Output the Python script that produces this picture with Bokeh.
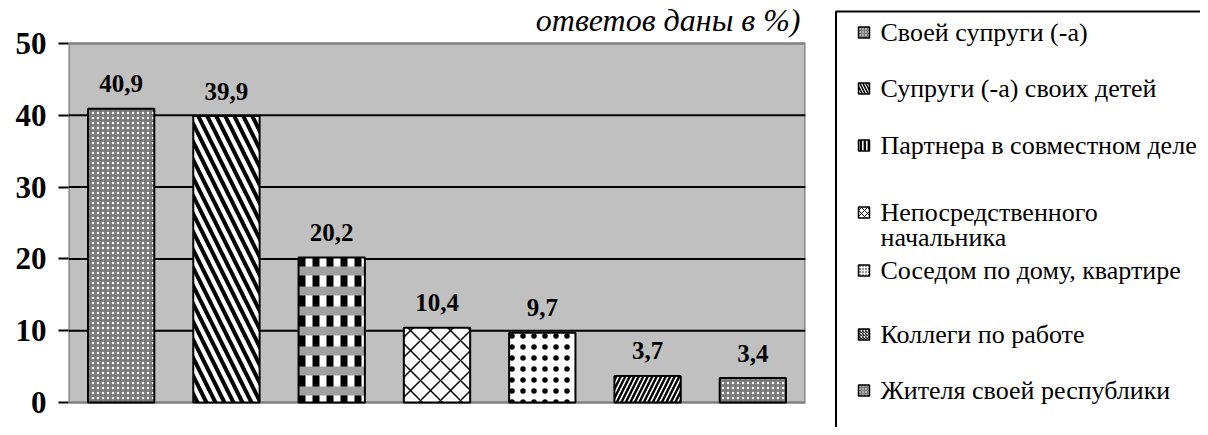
from bokeh.plotting import figure
from bokeh.models import ColumnDataSource, Range1d, FixedTicker
from bokeh.layouts import row
from bokeh.embed import file_html
from bokeh.resources import INLINE
from bokeh.core.properties import value

# ---- data ----
categories = [
    "Своей супруги (-а)",
    "Супруги (-а) своих детей",
    "Партнера в совместном деле",
    "Непосредственного\nначальника",
    "Соседом по дому, квартире",
    "Коллеги по работе",
    "Жителя своей республики",
]
values = [40.9, 39.9, 20.2, 10.4, 9.7, 3.7, 3.4]
y_ticks = [0, 10, 20, 30, 40, 50]
title_text = "ответов даны в %)"

# ---- styles ----
fill_colors = ["#7a7a7a", "white", "white", "white", "white", "white", "#7a7a7a"]
hatch_patterns = ["dot", "left_diagonal_line", "vertical_line", "diagonal_cross", "dot", "right_diagonal_line", "dot"]
hatch_colors = ["white", "black", "black", "black", "black", "black", "white"]
hatch_scales = [5, 18, 14, 20, 11, 9, 5]
hatch_weights = [1, 4, 7, 1.5, 7, 2.5, 1]
over_patterns = [" ", " ", "horizontal_line", " ", " ", " ", " "]
over_colors = ["#a0a0a0"] * 7
SERIF = "Liberation Serif"

# ---- layout (pixels) ----
W1, W2, H = 834, 366, 427
F_LEFT, F_RIGHT, F_TOP, F_BOTTOM = 68, 805, 43, 402

ymax = y_ticks[-1]
per_px = ymax / (F_BOTTOM - F_TOP)
y_start = -(H - F_BOTTOM) * per_px
y_end = ymax + F_TOP * per_px

x = list(range(1, len(values) + 1))
labels = [f"{v:.1f}".replace(".", ",") for v in values]
src = ColumnDataSource(dict(
    x=x, top=values, lab=labels, fill=fill_colors, hp=hatch_patterns, hc=hatch_colors,
    hs=hatch_scales, hw=hatch_weights, op=over_patterns, oc=over_colors,
))

xr = Range1d(0.5, len(values) + 0.5)
p = figure(width=W1, height=H, output_backend="svg", toolbar_location=None,
           x_range=xr, y_range=Range1d(y_start, y_end),
           min_border_left=F_LEFT, min_border_right=W1 - F_RIGHT,
           min_border_top=0, min_border_bottom=0)
p.background_fill_color = "white"
p.border_fill_color = "white"
p.outline_line_color = None

p.xaxis.visible = False
p.xgrid.visible = False
p.ygrid.visible = False

# plot area background and border
p.quad(left=[xr.start], right=[xr.end], bottom=[y_ticks[0]], top=[ymax],
       fill_color="#c0c0c0", line_color="#808080", line_width=2.5)

p.yaxis.ticker = FixedTicker(ticks=y_ticks)
p.yaxis.major_label_text_font = SERIF
p.yaxis.major_label_text_font_style = "bold"
p.yaxis.major_label_text_font_size = "31px"
p.yaxis.major_label_text_color = "black"
p.yaxis.major_label_standoff = 12
p.yaxis.major_tick_out = 10
p.yaxis.major_tick_in = 0
p.yaxis.major_tick_line_width = 2
p.yaxis.major_tick_line_color = "black"
p.yaxis.minor_tick_line_color = None
p.yaxis.axis_line_color = None

# gridlines drawn over the background quad
inner = y_ticks[1:-1]
p.segment(x0=[xr.start] * len(inner), x1=[xr.end] * len(inner), y0=inner, y1=inner,
          line_color="black", line_width=2)

p.vbar(x="x", top="top", bottom=0, width=0.63, source=src, fill_color="fill",
       hatch_pattern="hp", hatch_color="hc", hatch_scale="hs", hatch_weight="hw",
       line_color=None)
p.vbar(x="x", top="top", bottom=0, width=0.63, source=src, fill_alpha=0,
       hatch_pattern="op", hatch_color="oc", hatch_scale=20, hatch_weight=9,
       line_color="black", line_width=2)

p.text(x="x", y="top", text="lab", source=src, text_align="center", text_baseline="middle",
       y_offset=-25, text_font=value(SERIF), text_font_style="bold", text_font_size="25px",
       text_color="black")

# title fragment, anchored to the top-right corner of the plot area
p.text(x=[xr.end], y=[ymax], text=[title_text], x_offset=-5, y_offset=-24,
       text_align="right", text_baseline="alphabetic", text_font=value(SERIF),
       text_font_style="italic", text_font_size="32px", text_color="black")

# ---- legend panel ----
lg = figure(width=W2, height=H, output_backend="svg", toolbar_location=None,
            x_range=Range1d(0, W2), y_range=Range1d(H, 0),
            min_border=0, min_border_left=0, min_border_right=0, min_border_top=0, min_border_bottom=0)
lg.axis.visible = False
lg.grid.visible = False
lg.outline_line_color = None
lg.background_fill_color = "white"
lg.border_fill_color = "white"

box_left, box_top = 1.5, 11
lg.quad(left=[box_left], right=[W2 + 50], top=[box_top], bottom=[H + 50],
        fill_alpha=0, line_color="black", line_width=2)

legend_y = [32, 88, 145, 212, 270, 334, 390]
line_gap = 25
sq_x, txt_x, sq = 29.5, 46, 11
lsrc = ColumnDataSource(dict(
    x=[sq_x] * len(categories), y=legend_y, fill=fill_colors, hp=hatch_patterns,
    hc=hatch_colors, hs=[max(3, s // 3) for s in hatch_scales], hw=[max(1, w / 2.5) for w in hatch_weights],
))
lg.rect(x="x", y="y", width=sq, height=sq, source=lsrc, fill_color="fill",
        hatch_pattern="hp", hatch_color="hc", hatch_scale="hs", hatch_weight="hw",
        line_color="black", line_width=1.5)

tx, ty, tt = [], [], []
for i, cat in enumerate(categories):
    for j, part in enumerate(cat.split("\n")):
        tx.append(txt_x)
        ty.append(legend_y[i] + j * line_gap)
        tt.append(part)
lg.text(x=tx, y=ty, text=tt, text_align="left", text_baseline="middle",
        text_font=value(SERIF), text_font_size="26px", text_color="black")

layout = row(p, lg)
open("out.html", "w").write(file_html(layout, INLINE))
